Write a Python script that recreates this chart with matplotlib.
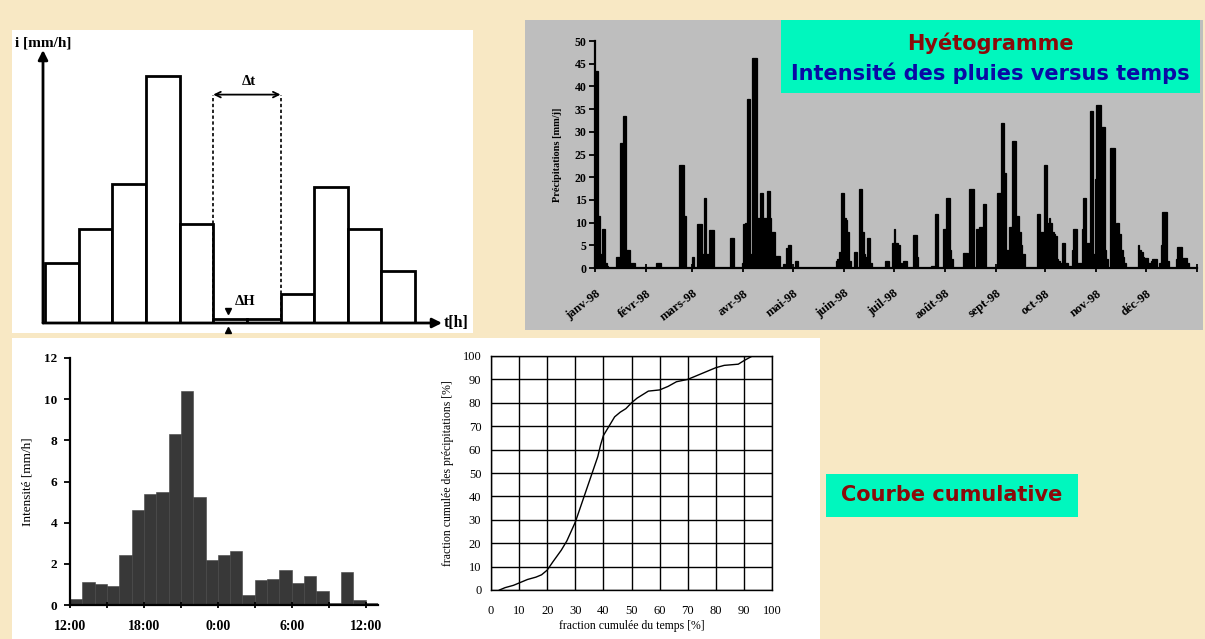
import matplotlib
matplotlib.use('Agg')
import matplotlib.pyplot as plt
from matplotlib.patches import Rectangle
import numpy as np

# ---------------- data ----------------
# schematic hyetograph (arbitrary units)
schema_heights = [1.80, 2.83, 4.18, 7.41, 2.96, 0.13, 0.13, 0.88, 4.08, 2.83, 1.55]

# daily hyetogram 1998 (day of year from 0, mm/day)
rain_days = [0, 1, 2, 3, 4, 5, 6, 7, 13, 14, 15, 16, 17, 18, 19, 20, 21, 22, 23,
             37, 38, 39, 51, 52, 53, 54,
             59, 62, 63, 64, 65, 66, 67, 68, 69, 70, 71, 82, 83, 89,
             90, 91, 92, 93, 94, 95, 96, 97, 98, 99, 100, 101, 102, 103, 104, 105, 106, 107, 108,
             109, 110, 111, 114, 116, 117, 118,
             121, 122, 146, 147, 148, 149, 150,
             151, 152, 153, 154, 157, 158, 160, 161, 162, 163, 164, 165, 166, 167, 176, 177, 180,
             181, 182, 183, 184, 185, 187, 188, 193, 194, 195, 204, 205, 206, 207, 211,
             212, 213, 214, 215, 216, 223, 224, 225, 227, 228, 229, 231, 232, 233, 234, 235, 236,
             244, 245, 246, 247, 248, 249, 250, 251, 252, 253, 254, 255, 256, 257, 258, 259, 260,
             268, 269, 270, 271, 272,
             273, 274, 275, 276, 277, 278, 279, 280, 281, 282, 283, 284, 285, 286, 287, 288, 289,
             290, 291, 292, 293, 294, 295, 296, 297, 298, 299, 300, 301, 302, 303,
             304, 305, 306, 307, 308, 309, 310, 312, 313, 314, 315, 316, 317, 318, 319, 320, 321,
             329, 330, 331, 332, 333,
             334, 335, 336, 337, 338, 339, 340, 342, 343, 344, 345, 346, 347, 352, 353, 354, 355,
             356, 357, 358, 359]
rain_mm = [43.5, 43.5, 11.5, 3, 8.7, 8.7, 1, 0.5, 2.5, 2.5, 27.5, 27.5, 33.5, 33.5, 4, 4, 1.2, 1.2, 1.2,
           1, 1.2, 1.2, 22.7, 22.7, 22.7, 11.5,
           2.5, 9.8, 9.8, 9.8, 3, 15.5, 3, 3, 8.3, 8.3, 8.3, 6.7, 6.7, 1,
           9.8, 10, 37.2, 37.2, 3, 46.2, 46.2, 46.2, 11, 11, 16.5, 16.5, 11, 11, 17, 17, 11, 8, 8,
           2.7, 2.7, 2.7, 0.8, 4.5, 5, 5,
           1.6, 1.6, 1.5, 2, 3.5, 16.5, 16.5,
           11, 10.5, 8, 1.5, 3.6, 3.6, 17.5, 17.5, 8, 3, 2.5, 6.5, 6.5, 1, 1.6, 1.6, 5.5,
           8.5, 5.5, 5.5, 5, 1, 1.6, 1.6, 7.2, 7.2, 2.5, 0.5, 0.5, 11.8, 11.8, 8.5,
           8.5, 15.5, 15.5, 4, 2, 3.2, 3.2, 3.2, 17.5, 17.5, 17.5, 8.5, 8.5, 9, 9, 14, 14,
           16.5, 16.5, 32, 32, 21, 4, 4, 9, 9, 28, 28, 11.5, 11.5, 8, 5, 3, 3,
           12, 12, 8, 8, 22.7,
           22.7, 10, 11, 10, 8, 7.5, 7, 2, 1.5, 1, 5.5, 5.5, 1, 1, 0.5, 0.5, 4,
           8.5, 8.5, 1, 1, 1, 8.5, 15.5, 15.5, 5.5, 5.5, 34.5, 34.5, 3, 19.5,
           35.8, 35.8, 35.8, 31, 31, 4, 2, 26.5, 26.5, 26.5, 3, 10, 10, 7.5, 4, 2.5, 1,
           5, 4, 3.5, 2.5, 2.2,
           2.2, 1, 1, 1.6, 2, 2, 2, 1, 5, 12.3, 12.3, 12.3, 1.5, 2, 4.7, 4.7, 4.7,
           2.3, 2.3, 2.3, 1]
month_starts = [0, 31, 59, 90, 120, 151, 181, 212, 243, 273, 304, 334, 365]
month_labels = ['janv-98', 'févr-98', 'mars-98', 'avr-98', 'mai-98', 'juin-98',
                'juil-98', 'août-98', 'sept-98', 'oct-98', 'nov-98', 'déc-98']

# hourly intensity of one storm (hours after 12:00, mm/h)
storm_hours = list(range(25))
storm_mmh = [0.3, 1.1, 1.0, 0.9, 2.45, 4.6, 5.4, 5.5, 8.3, 10.4, 5.25, 2.2, 2.45, 2.6,
             0.5, 1.2, 1.25, 1.7, 1.05, 1.4, 0.7, 0.1, 1.6, 0.25, 0.1]
storm_tick_hours = [0, 6, 12, 18, 24]
storm_tick_labels = ['12:00', '18:00', '0:00', '6:00', '12:00']

# cumulative curve (% of time, % of precipitation)
cum_time = [3, 5, 8, 10, 13, 16, 18, 20, 22, 25, 27, 30, 32, 34, 36, 38, 39, 40, 42, 44,
            46, 48, 50, 52, 54, 56, 60, 63, 66, 70, 73, 76, 80, 83, 88, 90, 93]
cum_precip = [0, 1, 2, 3, 4.5, 5.5, 6.5, 8.5, 12, 17, 21, 29, 36, 43, 50, 57, 62, 66, 70, 74,
              76, 77.5, 80, 82, 83.5, 85, 85.5, 87, 89, 90, 91.5, 93, 95, 96, 96.5, 98, 100]

# ---------------- figure ----------------
W, H = 1205, 639
fig = plt.figure(figsize=(W / 100, H / 100), dpi=100)
fig.patch.set_facecolor('#F8E8C4')
SERIF = 'Liberation Serif'


def rect(x0, y0, x1, y1):
    return [x0 / W, 1 - y1 / H, (x1 - x0) / W, (y1 - y0) / H]


def panel(x0, y0, x1, y1, color):
    fig.patches.append(Rectangle((x0 / W, 1 - y1 / H), (x1 - x0) / W, (y1 - y0) / H,
                                 transform=fig.transFigure, facecolor=color,
                                 edgecolor='none', zorder=-5))


def ftext(x, y, s, **kw):
    fig.text(x / W, 1 - y / H, s, **kw)


panel(12, 30, 473, 333, 'white')
panel(525, 20, 1203, 330, '#BEBEBE')
panel(12, 338, 820, 639, 'white')
panel(781, 20, 1200, 93, '#00F7BE')
panel(826, 474, 1078, 517, '#00F7BE')

# ---------- schematic ----------
ax1 = fig.add_axes(rect(43, 50, 442, 323))
ax1.set_xlim(-0.06, 11.8)
ax1.set_ylim(0, 8.2)
ax1.axis('off')
ax1.patch.set_alpha(0)
xs = np.arange(len(schema_heights)) + 0.5
ax1.bar(xs, schema_heights, width=1.0, facecolor='white', edgecolor='black', linewidth=2, zorder=2)
x0a = ax1.get_xlim()[0]
ax1.annotate('', xy=(11.8, 0), xytext=(x0a, 0),
             arrowprops=dict(arrowstyle='-|>', lw=2, color='black', mutation_scale=14,
                             shrinkA=0, shrinkB=0), annotation_clip=False, zorder=3)
ax1.annotate('', xy=(x0a, 8.2), xytext=(x0a, 0),
             arrowprops=dict(arrowstyle='-|>', lw=2, color='black', mutation_scale=14,
                             shrinkA=0, shrinkB=0), annotation_clip=False, zorder=3)
dt_y = 6.86
for xv in (5, 7):
    ax1.plot([xv, xv], [0, dt_y], ls=(0, (2, 1.5)), color='black', lw=1.2, zorder=3)
ax1.annotate('', xy=(7, dt_y), xytext=(5, dt_y),
             arrowprops=dict(arrowstyle='<->', lw=1.3, color='black', shrinkA=0, shrinkB=0))
ax1.text(6.05, 7.05, 'Δt', ha='center', va='bottom', fontsize=10.5, fontweight='bold', family=SERIF)
ax1.plot([5.43], [0.36], marker='v', color='black', ms=5, zorder=4, clip_on=False)
ax1.plot([5.43], [-0.2], marker='^', color='black', ms=5, zorder=4, clip_on=False)
ax1.text(5.95, 0.45, 'ΔH', ha='center', va='bottom', fontsize=10.5, fontweight='bold', family=SERIF)
ftext(15, 43, 'i [mm/h]', ha='left', va='center', fontsize=11, fontweight='bold', family=SERIF)
ftext(444, 323, 't[h]', ha='left', va='center', fontsize=11.5, fontweight='bold', family=SERIF)

# ---------- hyetogram ----------
ax2 = fig.add_axes(rect(595, 41, 1197, 268))
ax2.patch.set_alpha(0)
ax2.bar(np.array(rain_days) + 0.5, rain_mm, width=1.0, color='black', edgecolor='black', linewidth=0.9)
ax2.set_xlim(0, 365)
ax2.set_ylim(0, 50)
for s in ('top', 'right'):
    ax2.spines[s].set_visible(False)
for s in ('left', 'bottom'):
    ax2.spines[s].set_linewidth(1.6)
ax2.set_yticks(range(0, 51, 5))
ax2.set_yticklabels([str(v) for v in range(0, 51, 5)], fontsize=8.5, fontweight='bold', family=SERIF)
ax2.tick_params(axis='y', direction='out', length=4, width=1.3, pad=2)
ax2.set_xticks(month_starts)
ax2.set_xticklabels(month_labels + [''], rotation=38, ha='right', va='top',
                    rotation_mode='anchor', fontsize=9, fontweight='bold', family=SERIF)
ax2.tick_params(axis='x', direction='inout', length=6, width=1.3, pad=11)
ax2.set_ylabel('Précipitations [mm/j]', fontsize=7.5, fontweight='bold', family=SERIF, labelpad=9)
ftext(990, 43, 'Hyétogramme', ha='center', va='center', fontsize=15, fontweight='bold',
      color='#8B0A0A', family='DejaVu Sans')
ftext(990, 73, 'Intensité des pluies versus temps', ha='center', va='center', fontsize=15,
      fontweight='bold', color='#0A0AA5', family='DejaVu Sans')

# ---------- storm histogram ----------
ax3 = fig.add_axes(rect(70, 358, 378, 605))
ax3.patch.set_alpha(0)
ax3.bar(np.array(storm_hours) + 0.5, storm_mmh, width=1.0, color='#383838', edgecolor='#444444',
        linewidth=0.4)
ax3.set_xlim(0, 25)
ax3.set_ylim(0, 12)
for s in ('top', 'right'):
    ax3.spines[s].set_visible(False)
for s in ('left', 'bottom'):
    ax3.spines[s].set_linewidth(1.6)
ax3.set_yticks(range(0, 13, 2))
ax3.set_yticklabels([str(v) for v in range(0, 13, 2)], fontsize=9.5, fontweight='bold', family=SERIF)
ax3.tick_params(axis='y', direction='out', length=4, width=1.3, pad=5)
ax3.set_xticks(storm_tick_hours)
ax3.set_xticklabels(storm_tick_labels, fontsize=10, fontweight='bold', family=SERIF)
ax3.set_xticks(range(3, 25, 6), minor=True)
ax3.tick_params(axis='x', which='both', direction='inout', length=5, width=1.3, pad=8)
ax3.set_ylabel('Intensité [mm/h]', fontsize=9.5, family=SERIF, labelpad=8)

# ---------- cumulative curve ----------
ax4 = fig.add_axes(rect(491, 356, 772, 590))
ax4.set_facecolor('white')
ax4.plot(cum_time, cum_precip, color='black', lw=1.0, zorder=3)
ax4.set_xlim(0, 100)
ax4.set_ylim(0, 100)
ax4.set_xticks(range(0, 101, 10))
ax4.set_yticks(range(0, 101, 10))
ax4.grid(True, color='black', lw=1.0)
ax4.set_axisbelow(True)
for s in ax4.spines.values():
    s.set_linewidth(1.0)
ax4.tick_params(axis='x', length=0, pad=11, labelsize=9)
ax4.tick_params(axis='y', length=0, pad=7, labelsize=9)
for lab in ax4.get_xticklabels() + ax4.get_yticklabels():
    lab.set_family(SERIF)
ax4.set_xlabel('fraction cumulée du temps [%]', fontsize=8.5, family=SERIF, labelpad=2)
ax4.set_ylabel('fraction cumulée des précipitations [%]', fontsize=8.5, family=SERIF, labelpad=6)

ftext(952, 495, 'Courbe cumulative', ha='center', va='center', fontsize=15, fontweight='bold',
      color='#8B0A0A', family='DejaVu Sans')

fig.savefig('out.png', dpi=100, facecolor=fig.get_facecolor())
